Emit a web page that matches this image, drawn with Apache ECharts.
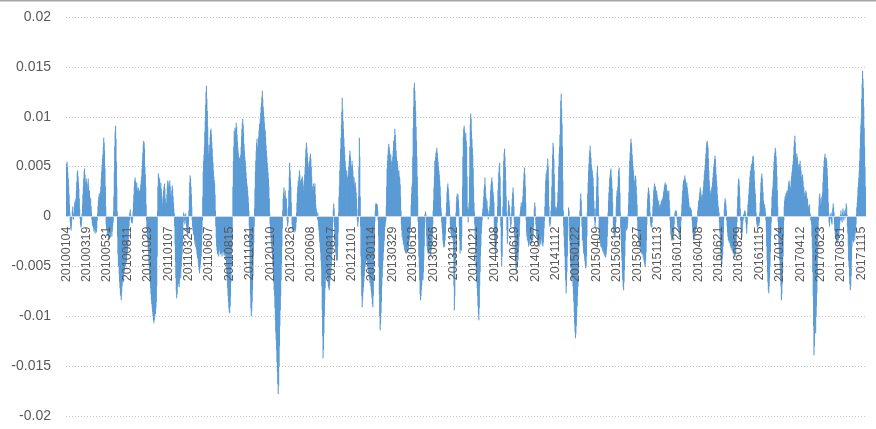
<!DOCTYPE html>
<html><head><meta charset="utf-8">
<script src="https://cdn.jsdelivr.net/npm/echarts@6/dist/echarts.min.js"></script>
<style>html,body{margin:0;padding:0;background:#fff}#c{width:876px;height:429px}</style>
</head><body><div id="c"></div>
<script>
// Daily values, in units of 0.0001 (one trading day each)
const seg2010_2011 = [
48,53,55,50,44,38,30,22,12,4,-6,-12,-14,-9,-3,6,10,4,-3,2,9,14,16,12,18,26,35,44,46,40,34,28,18,8,-2,-8,-11,-9,-4,3,12,22,30,38,45,48,42,35,28,38,
35,30,24,33,38,30,22,26,20,15,18,10,4,-3,-7,-10,-6,-12,-15,-9,-13,-17,-14,-8,-16,-12,-4,3,10,16,20,23,18,21,25,30,38,45,52,58,62,70,79,74,66,48,30,10,-8,-12,
-14,-18,-12,-20,-24,-22,-15,-10,-18,-21,-16,-12,-20,-15,-10,-6,5,20,45,70,85,91,78,55,30,5,-20,-38,-50,-46,-58,-66,-72,-78,-80,-84,-76,-70,-65,-60,-66,-58,-52,-55,-48,-50,-44,-40,-46,-38,
-35,-30,-26,-18,-10,-4,4,7,2,-3,-6,-4,-7,-2,5,14,22,30,36,39,35,33,30,34,28,26,24,29,25,22,26,24,28,32,36,40,48,56,64,72,76,74,68,50,42,30,12,-4,-12,-20,
-25,-34,-40,-48,-55,-62,-66,-72,-78,-84,-88,-92,-96,-100,-104,-107,-104,-100,-96,-98,-92,-86,-70,-40,5,30,43,40,36,38,32,29,34,28,24,18,10,14,20,26,30,33,28,18,12,8,14,22,30,36,
34,30,26,32,36,30,22,14,20,26,31,28,20,14,8,3,-10,-28,-45,-62,-75,-82,-78,-70,-66,-60,-68,-71,-64,-58,-55,-62,-51,-44,-38,-30,-18,-6,4,2,-4,-8,-3,3,-6,-10,-14,-18,-20,-16,
-8,6,20,34,41,38,30,22,10,-4,-10,-14,-18,-15,-20,-24,-28,-26,-31,-30,-34,-38,-42,-40,-46,-50,-54,-57,-52,-48,-44,-40,-30,-18,-4,20,45,56,62,70,85,96,112,125,131,118,106,90,72,63,
60,66,72,80,86,88,82,75,68,60,54,46,40,36,33,22,6,-10,-22,-30,-34,-38,-32,-36,-40,-35,-30,-33,-38,-36,-32,-37,-40,-36,-34,-30,-36,-39,-35,-38,-40,-37,-42,-48,-56,-64,-72,-80,-86,-92,
-96,-97,-90,-80,-66,-50,-34,-20,0,30,56,70,86,80,89,84,88,94,90,82,75,69,64,60,56,59,52,58,62,70,80,88,94,98,92,84,73,66,60,56,50,44,38,33,30,26,20,14,6,-10,
-30,-55,-78,-92,-100,-95,-86,-74,-60,-40,-26,-10,8,28,45,56,66,74,78,70,68,72,80,86,93,90,98,104,110,114,120,126,118,110,106,100,94,88,86,80,72,66,60,54,49,44,38,30,18,4
];
const seg2012_2013 = [
-8,-14,-20,-26,-30,-36,-42,-50,-58,-66,-74,-80,-92,-104,-116,-124,-134,-146,-156,-168,-178,-170,-150,-130,-110,-94,-80,-64,-48,-30,-12,6,18,24,29,22,16,26,20,14,18,8,-4,-10,-6,10,26,40,54,46,
38,30,14,0,-8,-12,-15,-10,-14,-16,-13,-9,-15,-12,-6,4,14,24,30,36,33,40,46,42,36,30,34,38,32,40,36,30,26,32,36,42,50,60,68,74,70,64,59,54,50,46,52,56,60,63,
58,50,40,30,26,30,33,28,24,30,33,22,12,8,5,2,-3,4,-5,-10,-14,-20,-26,-31,-36,-44,-51,-70,-94,-120,-142,-134,-117,-100,-84,-72,-62,-57,-54,-60,-56,-62,-66,-70,-72,-74,-70,-64,-60,-56,
-50,-44,-36,-20,-6,6,13,8,-10,-24,-31,-36,-40,-44,-38,-44,-30,-16,4,20,30,46,56,68,79,92,105,119,108,96,88,79,70,62,56,50,46,42,46,40,39,36,42,50,56,62,66,60,52,46,
50,56,52,46,40,36,39,32,30,34,29,24,18,8,-4,-10,-6,20,50,79,60,20,-10,-40,-60,-80,-91,-84,-76,-71,-66,-60,-55,-51,-48,-46,-44,-40,-44,-48,-52,-57,-54,-60,-63,-67,-64,-70,-74,-77,
-82,-88,-91,-80,-60,-40,-20,-5,6,13,10,13,8,12,6,-4,-20,-50,-78,-100,-114,-108,-97,-86,-70,-61,-52,-44,-36,-30,-24,-14,-10,-6,-4,10,30,48,56,62,68,73,70,66,63,58,62,56,50,54,
56,60,66,76,70,80,88,82,74,66,60,53,56,50,46,43,46,40,38,32,20,6,-8,-14,-21,-18,-24,-28,-26,-30,-34,-30,-36,-37,-33,-37,-35,-32,-30,-34,-28,-24,-20,-14,-10,0,12,23,30,33,
60,89,110,129,134,126,116,106,90,76,60,40,20,-5,-22,-40,-51,-64,-78,-84,-80,-74,-69,-64,-62,-64,-56,-44,-30,-12,2,5,3,-6,-20,-30,-34,-37,-32,-36,-38,-34,-31,-36,-39,-34,-30,-26,-18,-8,
6,16,29,40,56,50,60,64,66,69,64,59,55,50,46,42,36,30,20,9,4,-6,-12,-17,-24,-28,-31,-26,-30,-24,-18,-8,4,14,24,30,33,28,22,16,10,2,-8,-14,-18,-20,-16,-22,-19,-24,
-40,-70,-94,-80,-50,-20,4,14,20,23,18,22,16,8,-10,-24,-37,-33,-28,-34,-20,0,30,60,80,88,91,86,82,79,84,76,70,40,10,4,-6,8,14,40,70,92,103,98,86,78,69,62,48,30
];
const seg2014_2015 = [
14,5,-8,-20,-36,-50,-56,-64,-72,-80,-90,-98,-104,-92,-70,-56,-40,-30,-17,-10,-4,4,8,14,20,28,32,39,30,22,18,12,16,8,4,-3,2,6,3,10,18,26,32,36,39,34,28,24,20,14,
-10,-24,-34,-40,-36,-28,-20,-6,10,26,34,44,50,54,40,20,-10,-36,-50,-40,-20,10,36,56,64,68,60,50,36,20,4,-14,-27,-20,6,16,12,10,4,-4,-11,-8,2,10,18,24,29,22,10,-6,
-20,-36,-44,-52,-57,-50,-46,-40,-44,-36,-30,-20,-8,2,6,10,14,8,12,15,20,28,36,44,49,42,30,14,-4,-15,-20,-24,-18,-26,-30,-26,-22,-28,-24,-18,-22,-27,-20,-16,-24,-18,-10,0,8,14,
10,2,-8,-14,-20,-18,-24,-28,-22,-26,-30,-24,-20,-26,-28,-22,-17,-24,-28,-30,-26,-20,-12,-4,10,24,36,43,38,46,52,58,50,36,10,-6,-10,-8,-4,6,16,30,48,62,74,70,58,42,24,10,
6,10,8,4,9,14,24,36,50,63,70,82,100,116,123,108,93,70,36,6,-10,-20,-31,-40,-54,-64,-77,-70,-56,-40,-20,0,9,6,-10,-24,-37,-46,-52,-60,-64,-58,-62,-70,-78,-86,-96,-108,-116,-122,
-118,-110,-100,-90,-80,-70,-56,-41,-30,-10,6,18,23,16,4,-10,-24,-20,-30,-37,-34,-40,-44,-48,-52,-50,-40,-20,4,23,34,46,53,60,66,71,64,59,52,48,46,42,39,30,16,8,-4,-11,-6,8,
16,30,44,51,40,20,2,-14,-24,-20,-26,-30,-24,-31,-28,-34,-30,-36,-31,-38,-35,-40,-37,-41,-38,-34,-30,-20,-8,4,16,24,30,38,42,46,48,40,36,28,14,0,-10,-16,-21,-18,-20,-14,-6,10,
20,26,23,30,40,46,49,40,24,4,-12,-24,-36,-44,-56,-64,-71,-74,-66,-54,-40,-24,-12,-10,-14,-8,-12,-6,2,12,24,40,56,64,72,78,74,69,62,56,50,46,40,36,32,36,41,38,30,22,
12,-4,-14,-20,-24,-28,-24,-31,-27,-33,-30,-37,-34,-38,-36,-41,-38,-44,-46,-48,-51,-44,-36,-24,-8,8,18,24,29,26,22,14,4,-6,-10,-8,-11,-6,2,10,18,26,30,33,28,30,24,20,26,22,
18,14,10,16,12,8,10,12,9,14,16,12,18,14,20,24,26,30,32,34,30,28,32,24,22,26,20,24,26,16,8,-4,-12,-18,-21,-24,-20,-22,-24,-18,-14,-8,0,4,6,2,6,4,-2,-6
];
const seg2016_2017 = [
-10,-14,-11,-18,-21,-16,-20,-12,-4,4,12,20,26,32,36,34,38,41,38,36,32,30,34,29,26,22,18,14,10,8,6,9,4,7,2,-4,-10,-16,-20,-24,-22,-18,-20,-14,-11,-8,-12,-6,0,6,
10,16,14,20,24,29,26,22,18,20,16,22,26,30,36,42,46,52,58,63,70,74,76,72,69,58,46,36,30,26,23,20,24,28,30,34,39,44,50,53,57,61,58,50,42,36,30,22,16,10,
8,4,-6,-16,-24,-34,-44,-51,-48,-42,-38,-30,-16,-2,8,14,18,16,12,6,-4,-10,-16,-20,-24,-22,-26,-24,-27,-30,-27,-32,-30,-34,-32,-35,-37,-34,-38,-40,-41,-38,-36,-30,-18,-6,8,20,32,38,
36,30,20,8,-4,-12,-18,-21,-16,-8,-4,2,-2,4,6,5,3,-6,-12,-17,-8,4,12,16,22,29,34,40,46,44,50,53,48,56,60,61,54,46,36,28,23,14,4,-4,-8,-11,-8,-10,-6,-9,
-6,4,14,24,34,40,43,38,30,24,16,13,10,12,8,4,-4,-14,-30,-44,-56,-66,-74,-77,-70,-62,-50,-36,-20,-6,8,20,26,29,36,46,55,61,64,69,66,60,52,40,26,10,-6,-20,-28,-36,
-44,-52,-62,-70,-84,-78,-68,-56,-40,-20,-4,10,16,20,18,23,20,24,26,22,26,30,34,36,32,28,24,30,36,40,44,48,52,56,62,70,76,81,74,64,56,58,63,60,55,50,46,52,53,48,
56,50,46,40,36,38,42,36,30,29,24,20,16,22,26,24,20,14,18,12,8,10,6,12,4,2,-4,0,-8,-20,-32,-56,-80,-110,-139,-130,-117,-108,-117,-100,-90,-77,-60,-40,-20,-4,10,20,23,18,
12,6,14,20,16,24,34,43,50,56,60,63,58,54,59,56,48,40,28,14,4,-6,-10,-4,2,-2,4,-6,-8,2,8,13,10,4,-8,-14,-18,-22,-20,-26,-24,-27,-22,-18,-24,-20,-14,-8,-4,2,
6,-4,2,-6,4,8,2,-4,6,3,-2,4,8,13,10,2,-10,-17,-30,-44,-51,-60,-68,-74,-70,-60,-44,-30,-24,-20,-22,-26,-20,-18,-24,-17,-14,-8,2,9,14,20,29,34,39,46,56,68,83,92,
99,118,133,146,138,129,110,89,70,50,30,16
];
// Category labels shown on the axis (every 50th trading day)
const tickLabels = ['20100104','20100319','20100531','20100811','20101029','20110107','20110324','20110607','20110815','20111031',
'20120110','20120326','20120608','20120817','20121101','20130114','20130329','20130618','20130826','20131112',
'20140121','20140408','20140619','20140827','20141112','20150122','20150409','20150618','20150827','20151113',
'20160122','20160408','20160621','20160829','20161115','20170124','20170412','20170623','20170831','20171115'];
const LABEL_STEP = 50;
const UNIT = 0.0001;
const Y_MIN = -0.02, Y_MAX = 0.02;

const values = [].concat(seg2010_2011, seg2012_2013, seg2014_2015, seg2016_2017).map(v => +(v * UNIT).toFixed(4));
const categories = values.map((_, i) => (i % LABEL_STEP === 0 && tickLabels[i / LABEL_STEP]) ? tickLabels[i / LABEL_STEP] : ('#' + i));

const W = 876, H = 429;
const GRID = {left: 66, right: 10, top: 17, bottom: 13};
// move the category axis (line + labels) up to the zero line, as in the reference
const plotH = H - GRID.top - GRID.bottom;
const zeroOffset = -plotH * (0 - Y_MIN) / (Y_MAX - Y_MIN);

const chart = echarts.init(document.getElementById('c'), null, {renderer: 'canvas'});
chart.setOption({
  animation: false,
  backgroundColor: '#ffffff',
  grid: Object.assign({containLabel: false, outerBoundsMode: 'none'}, GRID),
  graphic: [{type: 'line', silent: true, shape: {x1: 0, y1: 0.75, x2: W, y2: 0.75}, style: {stroke: '#a6a6a6', lineWidth: 1.5}}],
  xAxis: {
    type: 'category', data: categories, z: 3, position: 'bottom', offset: zeroOffset,
    axisLine: {show: true, onZero: false, lineStyle: {color: '#d9d9d9', width: 1}},
    axisTick: {show: false},
    splitLine: {show: false},
    axisLabel: {
      interval: LABEL_STEP - 1, rotate: 90, margin: 10,
      color: '#595959', fontSize: 12.5, fontFamily: 'Liberation Sans',
      formatter: v => (v.charAt(0) === '#' ? '' : v)
    }
  },
  yAxis: {
    type: 'value', min: Y_MIN, max: Y_MAX, interval: 0.005,
    axisLine: {show: false}, axisTick: {show: false},
    splitLine: {show: true, lineStyle: {color: '#c9c9c9', width: 1, type: [1, 2]}},
    axisLabel: {color: '#595959', fontSize: 14, fontFamily: 'Liberation Sans', margin: 15,
      formatter: v => String(Number(v.toFixed(3)))}
  },
  series: [{
    type: 'bar', data: values, barWidth: 1.1, barGap: '-100%',
    itemStyle: {color: '#5b9bd5'}, silent: true
  }]
});
</script></body></html>
